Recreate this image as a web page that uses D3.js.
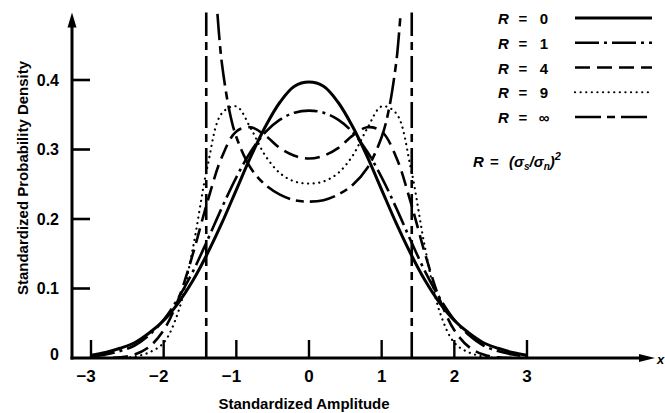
<!DOCTYPE html>
<html>
<head>
<meta charset="utf-8">
<script src="https://cdn.jsdelivr.net/npm/d3@7"></script>
<style>
  body { margin: 0; background: #fff; }
  svg { display: block; font-family: "Liberation Sans", Arial, sans-serif; font-weight: bold; }
</style>
</head>
<body>
<svg id="chart" width="665" height="413"></svg>
<script>
// Standardized amplitude positions (shared by most curves)
var amp = [-3, -2.8, -2.6, -2.4, -2.2, -2, -1.8, -1.6, -1.4, -1.2, -1, -0.8, -0.6, -0.4, -0.2,
           0, 0.2, 0.4, 0.6, 0.8, 1, 1.2, 1.4, 1.6, 1.8, 2, 2.2, 2.4, 2.6, 2.8, 3];

// R = 0 (pure noise)
var r0 = [0.004, 0.008, 0.014, 0.022, 0.036, 0.054, 0.079, 0.111, 0.150, 0.194, 0.242, 0.290, 0.333, 0.368, 0.391,
          0.397, 0.391, 0.368, 0.333, 0.290, 0.242, 0.194, 0.150, 0.111, 0.079, 0.054, 0.036, 0.022, 0.014, 0.008, 0.004];
// R = 1
var r1 = [0.002, 0.005, 0.010, 0.018, 0.033, 0.055, 0.086, 0.124, 0.169, 0.216, 0.260, 0.297, 0.325, 0.343, 0.353,
          0.356, 0.353, 0.343, 0.325, 0.297, 0.260, 0.216, 0.169, 0.124, 0.086, 0.055, 0.033, 0.018, 0.010, 0.005, 0.002];
// R = 4
var r4 = [0, 0, 0.001, 0.005, 0.016, 0.040, 0.084, 0.149, 0.224, 0.289, 0.326, 0.332, 0.320, 0.302, 0.291,
          0.287, 0.291, 0.302, 0.320, 0.332, 0.326, 0.289, 0.224, 0.149, 0.084, 0.040, 0.016, 0.005, 0.001, 0, 0];
// R = 9
var r9 = [0, 0, 0, 0.002, 0.008, 0.022, 0.066, 0.157, 0.274, 0.352, 0.362, 0.330, 0.291, 0.266, 0.254,
          0.251, 0.254, 0.266, 0.291, 0.330, 0.362, 0.352, 0.274, 0.157, 0.066, 0.022, 0.008, 0.002, 0, 0, 0];

// R = infinity (pure sine), goes off the top near +/- sqrt(2)
var ampInf = [-1.26, -1.23, -1.2, -1.1, -1, -0.8, -0.6, -0.4, -0.2, 0, 0.2, 0.4, 0.6, 0.8, 1, 1.1, 1.2, 1.23, 1.26];
var rInf = [0.495, 0.456, 0.425, 0.358, 0.318, 0.273, 0.249, 0.235, 0.227, 0.225, 0.227, 0.235, 0.249, 0.273, 0.318, 0.358, 0.425, 0.456, 0.495];
var asymptotes = [-1.414, 1.414];

// Axes
var xTicks = [-3, -2, -1, 0, 1, 2, 3];
var yTicks = [0.1, 0.2, 0.3, 0.4];
var yLabels = [0, 0.1, 0.2, 0.3, 0.4];
var legendLabels = ['0', '1', '4', '9', '\u221e'];

var svg = d3.select('#chart');

var x = d3.scaleLinear().domain([-3, 3]).range([91, 527]);
var y = d3.scaleLinear().domain([0, 0.4]).range([358, 80]);
var yTop = 0.497;       // where the y arrow ends
var axisLeft = 72;      // x pixel of the vertical axis
var axisRight = 655;    // tip of the x arrow

// line styles per curve
var styles = {
  '0': {dash: null, width: 3},
  '1': {dash: '24,5,3,5', width: 2.6},
  '4': {dash: '15,7', width: 2.6},
  '9': {dash: '0.1,5.5', width: 2.2},
  '\u221e': {dash: '26,6,8,6', width: 2.6}
};

var series = [
  {name: '0', xs: amp, ys: r0},
  {name: '1', xs: amp, ys: r1},
  {name: '4', xs: amp, ys: r4},
  {name: '9', xs: amp, ys: r9},
  {name: '\u221e', xs: ampInf, ys: rInf}
];

// clip so nothing dips below the baseline
svg.append('clipPath').attr('id', 'plot-clip')
   .append('rect')
   .attr('x', axisLeft).attr('y', 0)
   .attr('width', axisRight - axisLeft).attr('height', y(0));

var line = d3.line()
             .x(function(d) { return x(d[0]); })
             .y(function(d) { return y(d[1]); })
             .curve(d3.curveCatmullRom.alpha(0.5));

var curves = svg.append('g').attr('clip-path', 'url(#plot-clip)');

curves.selectAll('path.curve')
      .data(series)
      .enter()
      .append('path')
      .attr('class', 'curve')
      .attr('d', function(s) { return line(s.xs.map(function(v, i) { return [v, s.ys[i]]; })); })
      .attr('fill', 'none')
      .attr('stroke', '#000')
      .attr('stroke-width', function(s) { return styles[s.name].width; })
      .attr('stroke-dasharray', function(s) { return styles[s.name].dash; })
      .attr('stroke-linecap', function(s) { return s.name === '9' ? 'round' : 'butt'; });

// vertical asymptotes of the R = infinity curve
curves.selectAll('line.asym')
      .data(asymptotes)
      .enter()
      .append('line')
      .attr('class', 'asym')
      .attr('x1', function(d) { return x(d); })
      .attr('x2', function(d) { return x(d); })
      .attr('y1', y(0))
      .attr('y2', y(yTop))
      .attr('stroke', '#000')
      .attr('stroke-width', 2.6)
      .attr('stroke-dasharray', styles['\u221e'].dash);

// axis lines
var axes = svg.append('g').attr('stroke', '#000').attr('stroke-width', 3);
axes.append('line')
    .attr('x1', axisLeft).attr('x2', axisLeft)
    .attr('y1', y(0) + 1.5).attr('y2', y(yTop) + 10);
axes.append('line')
    .attr('x1', axisLeft - 1.5).attr('x2', axisRight - 10)
    .attr('y1', y(0)).attr('y2', y(0));

// arrow heads
svg.append('path')
   .attr('d', 'M' + axisLeft + ',' + y(yTop) + 'l-4.5,15h9z')
   .attr('fill', '#000');
svg.append('path')
   .attr('d', 'M' + axisRight + ',' + y(0) + 'l-16,-4v8z')
   .attr('fill', '#000');

// y ticks (inside)
svg.selectAll('line.ytick')
   .data(yTicks)
   .enter()
   .append('line')
   .attr('class', 'ytick')
   .attr('x1', axisLeft)
   .attr('x2', axisLeft + 18)
   .attr('y1', function(d) { return y(d); })
   .attr('y2', function(d) { return y(d); })
   .attr('stroke', '#000')
   .attr('stroke-width', 2.6);

svg.selectAll('text.ylab')
   .data(yLabels)
   .enter()
   .append('text')
   .attr('class', 'ylab')
   .attr('x', 59)
   .attr('y', function(d) { return y(d) + (d === 0 ? 1.5 : 5.5); })
   .attr('text-anchor', 'end')
   .attr('font-size', 16)
   .text(function(d) { return d === 0 ? '0' : d3.format('.1f')(d); });

// x ticks (upward)
svg.selectAll('line.xtick')
   .data(xTicks)
   .enter()
   .append('line')
   .attr('class', 'xtick')
   .attr('x1', function(d) { return x(d); })
   .attr('x2', function(d) { return x(d); })
   .attr('y1', y(0))
   .attr('y2', y(0) - 18)
   .attr('stroke', '#000')
   .attr('stroke-width', 2.4);

// digit centred on the tick, minus sign hangs to the left
svg.selectAll('text.xlab')
   .data(xTicks)
   .enter()
   .append('text')
   .attr('class', 'xlab')
   .attr('x', function(d) { return x(d) + 4.8; })
   .attr('y', 382)
   .attr('text-anchor', 'end')
   .attr('font-size', 17)
   .text(function(d) { return d < 0 ? '\u2212' + Math.abs(d) : d; });

svg.append('text')
   .attr('x', 657).attr('y', 364)
   .attr('font-size', 13)
   .attr('font-style', 'italic')
   .text('x');

// axis titles
svg.append('text')
   .attr('x', 304).attr('y', 409)
   .attr('text-anchor', 'middle')
   .attr('font-size', 15)
   .text('Standardized Amplitude');

svg.append('text')
   .attr('transform', 'translate(28,178) rotate(-90)')
   .attr('text-anchor', 'middle')
   .attr('font-size', 15)
   .text('Standardized Probability Density');

// legend
var rowY = d3.scalePoint().domain(legendLabels).range([18, 117]);
var legend = svg.append('g').attr('font-size', 15);
var rows = legend.selectAll('g.row')
                 .data(series)
                 .enter()
                 .append('g')
                 .attr('class', 'row')
                 .attr('transform', function(s) { return 'translate(0,' + rowY(s.name) + ')'; });

rows.append('text').attr('x', 498).attr('y', 6).attr('font-style', 'italic').text('R');
rows.append('text').attr('x', 523).attr('y', 6).attr('text-anchor', 'middle').text('=');
rows.append('text').attr('x', 544).attr('y', 6).attr('text-anchor', 'middle')
    .text(function(s) { return s.name; });
rows.append('line')
    .attr('x1', 575).attr('x2', 652)
    .attr('y1', 0).attr('y2', 0)
    .attr('stroke', '#000')
    .attr('stroke-width', function(s) { return styles[s.name].width; })
    .attr('stroke-dasharray', function(s) { return styles[s.name].dash; })
    .attr('stroke-linecap', function(s) { return s.name === '9' ? 'round' : 'butt'; });

// R = (sigma_s / sigma_n)^2
var formula = svg.append('text').attr('y', 167).attr('font-size', 15).attr('font-style', 'italic');
formula.append('tspan').attr('x', 473).text('R');
formula.append('tspan').attr('x', 490).attr('font-style', 'normal').text('=');
formula.append('tspan').attr('x', 509).text('(\u03c3');
formula.append('tspan').attr('font-size', 10).attr('dy', 3).text('s');
formula.append('tspan').attr('dy', -3).text('/\u03c3');
formula.append('tspan').attr('font-size', 10).attr('dy', 3).text('n');
formula.append('tspan').attr('dy', -3).text(')');
formula.append('tspan').attr('font-size', 11).attr('dy', -7).text('2');
</script>
</body>
</html>
